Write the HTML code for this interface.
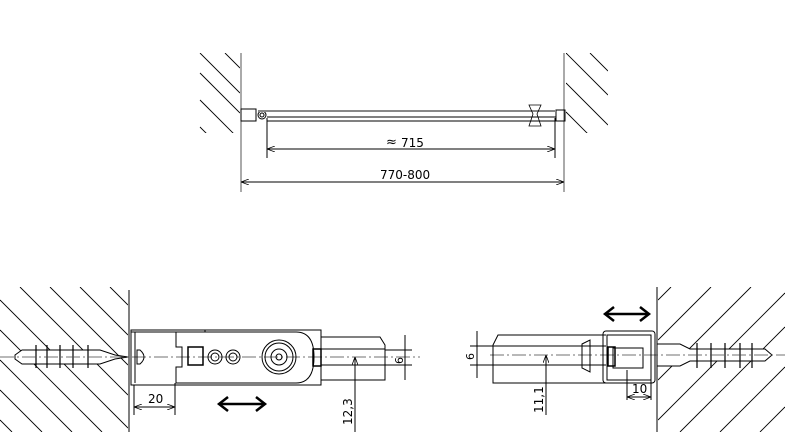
<!DOCTYPE html>
<html><head><meta charset="utf-8"><style>
html,body{margin:0;padding:0;background:#fff;}
svg{display:block;}
text{font-family:"DejaVu Sans","Liberation Sans",sans-serif;fill:#000;}
</style></head><body>
<svg width="785" height="444" viewBox="0 0 785 444" xmlns="http://www.w3.org/2000/svg" fill="none" stroke="#000" stroke-width="1">
<defs>
<clipPath id="c1"><rect x="198" y="53" width="42" height="80"/></clipPath>
<clipPath id="c2"><rect x="566" y="53" width="42" height="80"/></clipPath>
<clipPath id="c3"><rect x="0" y="287" width="128" height="145"/></clipPath>
<clipPath id="c4"><rect x="658" y="287" width="127" height="145"/></clipPath>
<marker id="a" markerWidth="8" markerHeight="6" refX="8" refY="3" orient="auto-start-reverse"><path d="M0,0 L8,3 L0,6" fill="none" stroke="#000" stroke-width="0.8"/></marker>
</defs>
<!-- TOP -->
<g clip-path="url(#c1)" stroke-width="0.9">
<line x1="200" y1="53" x2="240" y2="93"/><line x1="200" y1="73" x2="240" y2="113"/><line x1="200" y1="100" x2="235" y2="135"/><line x1="200" y1="127" x2="210" y2="137"/><line x1="225" y1="53" x2="240" y2="68"/>
</g>
<g clip-path="url(#c2)" stroke-width="0.9">
<line x1="566" y1="53" x2="608" y2="95"/><line x1="566" y1="83" x2="608" y2="125"/><line x1="566" y1="112" x2="590" y2="136"/><line x1="590" y1="53" x2="608" y2="71"/>
</g>
<line x1="241" y1="53" x2="241" y2="192" stroke="#555"/>
<line x1="564" y1="53" x2="564" y2="192" stroke="#555"/>
<rect x="241" y="109" width="15" height="12"/>
<rect x="556" y="110" width="9" height="11"/>
<circle cx="262" cy="115" r="4"/><circle cx="262" cy="115" r="2"/>
<line x1="258" y1="111" x2="556" y2="111" stroke="#888" stroke-width="2"/>
<line x1="267" y1="117" x2="556" y2="117"/>
<line x1="267" y1="121" x2="556" y2="121"/>
<path d="M529,105 L541,105 L537,114 L541,126 L529,126 L533,114 Z" stroke-width="0.8"/>
<line x1="267" y1="118" x2="267" y2="158"/>
<line x1="555" y1="118" x2="555" y2="158"/>
<line x1="267" y1="149" x2="555" y2="149" marker-start="url(#a)" marker-end="url(#a)"/>
<text x="386" y="146" font-size="13" stroke="none">≈</text>
<text x="401" y="147" font-size="12" stroke="none">715</text>
<line x1="241" y1="182" x2="564" y2="182" marker-start="url(#a)" marker-end="url(#a)"/>
<text x="380" y="179" font-size="12" stroke="none">770-800</text>
<!-- BOTTOM LEFT -->
<g clip-path="url(#c3)" stroke-width="0.9">
<line x1="20" y1="287" x2="128" y2="395"/><line x1="50" y1="287" x2="128" y2="365"/><line x1="80" y1="287" x2="128" y2="335"/><line x1="110" y1="287" x2="128" y2="305"/>
<line x1="0" y1="300" x2="128" y2="428"/><line x1="0" y1="330" x2="102" y2="432"/><line x1="0" y1="360" x2="72" y2="432"/><line x1="0" y1="390" x2="42" y2="432"/><line x1="0" y1="420" x2="12" y2="432"/>
</g>
<line x1="129" y1="290" x2="129" y2="432"/>
<path d="M15,355 L22,350 L100,350 L115,355 L128,357 L115,359 L100,364 L22,364 L15,359 Z" fill="#fff"/>
<g stroke-width="1.2"><line x1="36" y1="345" x2="36" y2="368"/><line x1="47" y1="345" x2="47" y2="368"/><line x1="60" y1="345" x2="60" y2="368"/><line x1="73" y1="345" x2="73" y2="368"/><line x1="88" y1="345" x2="88" y2="368"/></g>
<line x1="0" y1="357" x2="420" y2="357" stroke="#444" stroke-dasharray="14,3,2,3" stroke-width="0.8"/>
<path d="M131,330 L205,330 L205,332 L131,332 Z"/>
<rect x="131" y="330" width="190" height="55"/>
<line x1="135" y1="332" x2="135" y2="383"/>
<path d="M140,350 Q148,357 140,364 L137,364 L137,350 Z"/>
<path d="M176,332 L296,332 Q314,332 314,357 Q314,383 296,383 L176,383 L176,367 L182,367 L182,347 L176,347 Z"/>
<rect x="188" y="347" width="15" height="18" stroke-width="1.5"/>
<circle cx="215" cy="357" r="7"/><circle cx="215" cy="357" r="4"/>
<circle cx="233" cy="357" r="7"/><circle cx="233" cy="357" r="4"/>
<circle cx="279" cy="357" r="17"/><circle cx="279" cy="357" r="14"/><circle cx="279" cy="357" r="8"/><circle cx="279" cy="357" r="3"/>
<rect x="313" y="349" width="8" height="17" stroke-width="1.5"/>
<path d="M321,337 L380,337 L385,345 L385,380 L321,380"/>
<line x1="321" y1="349" x2="385" y2="349"/><line x1="321" y1="365" x2="385" y2="365"/>
<line x1="385" y1="350" x2="412" y2="350"/><line x1="385" y1="365" x2="412" y2="365"/>
<line x1="405" y1="335" x2="405" y2="380"/>
<text x="0" y="0" font-size="11" stroke="none" transform="translate(403,364) rotate(-90)">6</text>
<line x1="134" y1="385" x2="134" y2="415"/><line x1="175" y1="383" x2="175" y2="415"/>
<line x1="134" y1="407" x2="175" y2="407" marker-start="url(#a)" marker-end="url(#a)"/>
<text x="148" y="403" font-size="12" stroke="none">20</text>
<line x1="355" y1="357" x2="355" y2="432" marker-start="url(#a)"/>
<text x="0" y="0" font-size="12" stroke="none" transform="translate(352,425) rotate(-90)">12,3</text>
<g stroke-width="2.5"><line x1="220" y1="404" x2="264" y2="404"/><path d="M228,397 L219,404 L228,411"/><path d="M256,397 L265,404 L256,411"/></g>
<!-- BOTTOM RIGHT -->
<g clip-path="url(#c4)" stroke-width="0.9">
<line x1="658" y1="300" x2="671" y2="287"/><line x1="658" y1="340" x2="711" y2="287"/><line x1="658" y1="380" x2="751" y2="287"/><line x1="658" y1="420" x2="785" y2="293"/><line x1="680" y1="432" x2="785" y2="327"/><line x1="720" y1="432" x2="785" y2="367"/><line x1="760" y1="432" x2="785" y2="407"/>
</g>
<line x1="657" y1="287" x2="657" y2="432"/>
<path d="M657,344 L680,344 L690,349 L765,349 L772,355 L765,361 L690,361 L680,366 L657,366 Z" fill="#fff"/>
<g stroke-width="1.2"><line x1="697" y1="343" x2="697" y2="368"/><line x1="711" y1="343" x2="711" y2="368"/><line x1="725" y1="343" x2="725" y2="368"/><line x1="740" y1="343" x2="740" y2="368"/><line x1="752" y1="343" x2="752" y2="368"/></g>
<line x1="490" y1="355" x2="785" y2="355" stroke="#444" stroke-dasharray="14,3,2,3" stroke-width="0.8"/>
<path d="M606,335 L498,335 L493,345 L493,383 L606,383"/>
<line x1="493" y1="346" x2="606" y2="346"/><line x1="493" y1="365" x2="606" y2="365"/>
<path d="M582,344 L590,340 L590,372 L582,368 Z"/>
<rect x="603" y="331" width="52" height="52" rx="3"/>
<rect x="607" y="335" width="44" height="45"/>
<rect x="613" y="348" width="30" height="20"/>
<rect x="608" y="347" width="7" height="19" stroke-width="1.5"/>
<line x1="627" y1="370" x2="627" y2="400"/><line x1="651" y1="380" x2="651" y2="400"/>
<line x1="627" y1="397" x2="651" y2="397" marker-start="url(#a)" marker-end="url(#a)"/>
<text x="632" y="393" font-size="12" stroke="none">10</text>
<line x1="470" y1="346" x2="493" y2="346"/><line x1="470" y1="365" x2="493" y2="365"/>
<line x1="477" y1="331" x2="477" y2="378"/>
<text x="0" y="0" font-size="11" stroke="none" transform="translate(474,360) rotate(-90)">6</text>
<line x1="546" y1="355" x2="546" y2="415" marker-start="url(#a)"/>
<text x="0" y="0" font-size="12" stroke="none" transform="translate(543,413) rotate(-90)">11,1</text>
<g stroke-width="2.5"><line x1="606" y1="314" x2="648" y2="314"/><path d="M614,307 L605,314 L614,321"/><path d="M640,307 L649,314 L640,321"/></g>
</svg>
</body></html>
